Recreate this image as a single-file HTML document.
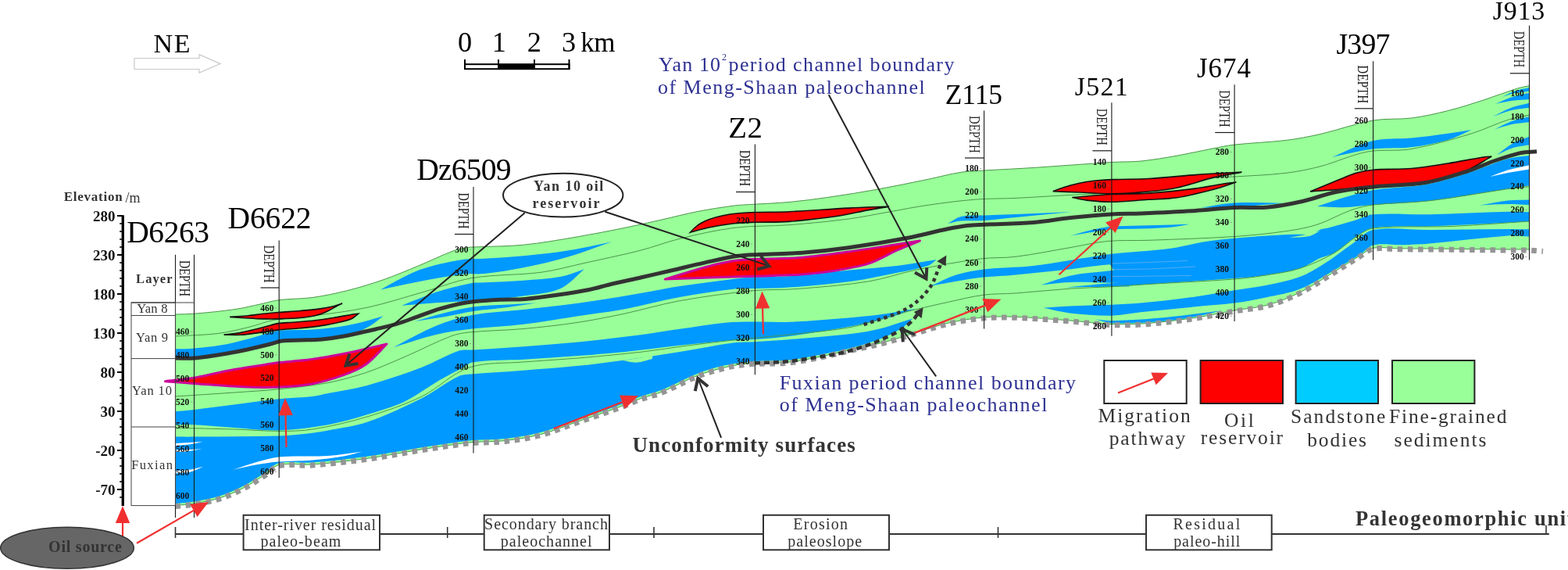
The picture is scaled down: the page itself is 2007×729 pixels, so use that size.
<!DOCTYPE html>
<html><head><meta charset="utf-8"><title>Cross-section</title>
<style>html,body{margin:0;padding:0;background:#fff;}svg{display:block;}</style></head>
<body><svg width="2007" height="729" viewBox="0 0 2007 729">
<rect width="2007" height="729" fill="#fff"/>
<path d="M224.5 402C232.6 401.7 240.7 401.9 248.8 401.2C266.6 399.7 284.4 398 302 395.4C313.1 393.8 324 390.9 335 388.6C342.3 387 349.6 384.6 357 383.7C371.2 381.9 385.8 382.5 400 380.5C415.1 378.4 430.2 375.2 445 371.5C460.2 367.7 475.2 363.1 490 358C505.6 352.6 520.7 346.1 536 339.8C551.1 333.6 565.8 326.2 581 320.6C586.8 318.5 593 317.6 599 316.5C601.3 316.1 603.7 316.1 606 316C627.3 315 648.8 315.3 670 313.2C693.4 310.9 716.7 306.6 740 302.7C760.1 299.3 780.1 295.3 800 291.3C815.7 288.1 831.3 284.5 847 281C862.3 277.6 877.6 273.5 893 270.5C908.6 267.5 924.3 265 940 263C948.6 261.9 957.3 261.8 966 261.2C980.7 260.3 995.4 259.9 1010 258.5C1027 256.9 1044.1 254.7 1061 252.2C1082.1 249.2 1103.1 245.8 1124 242C1145.4 238.1 1166.7 233.7 1188 229.3C1202 226.4 1215.9 222.5 1230 220.3C1239.9 218.7 1250 218.6 1260 218C1281 216.7 1302 215.9 1323 214.5C1356.3 212.4 1389.7 209.5 1423 207.5C1435.3 206.7 1447.7 207.3 1460 206.1C1475.7 204.5 1491.4 201.8 1507 199.1C1522.4 196.4 1537.6 192.7 1553 189.8C1562 188.1 1570.9 186.1 1580 185.1C1602.3 182.6 1624.8 182 1647 179.3C1661.4 177.5 1675.8 174.7 1690 171.5C1712.7 166.3 1734.8 158 1757.6 154C1773.6 151.2 1790.4 153.1 1806.6 151C1822.3 149 1837.9 145.5 1853.3 141.6C1869 137.7 1884.5 132.6 1900 127.6C1914 123.1 1927.7 117.6 1941.7 113.2C1946.8 111.6 1952.2 110.9 1957.5 109.7L1957.5 319C1948.3 319 1939.2 319.1 1930 319C1896.7 318.7 1863.3 318.3 1830 318C1816.7 317.9 1803.3 317.9 1790 317.8C1779.2 317.7 1767.9 315.4 1757.6 317.3C1751.5 318.4 1746.4 323.4 1741 326.7C1729.9 333.5 1719.1 340.7 1708 347.5C1693.4 356.4 1679.2 366.3 1664 373.9C1650.9 380.4 1637.1 386.1 1623 390C1609.1 393.8 1594.3 394.5 1580 397C1563.3 399.9 1546.8 403.8 1530 406.3C1510.1 409.3 1490.1 411.8 1470 413.4C1454.4 414.6 1438.6 415.1 1423 414.6C1405.3 414 1387.7 411.3 1370 410C1346.7 408.2 1323.4 406.2 1300 405.3C1286.6 404.8 1273 404.6 1259.6 405.8C1244.1 407.2 1228.7 409.8 1213.5 413.2C1199.5 416.4 1185.8 421.4 1172 425.5C1158.3 429.6 1144.8 434.3 1131 437.9C1117.5 441.5 1103.7 444 1090 447.1C1076.6 450.1 1063.3 453.5 1049.8 456.2C1036.6 458.8 1023.4 461.7 1010 463C993 464.6 975.7 463.4 958.7 464.8C948.4 465.7 938.1 467.4 928 469.8C916.2 472.6 904.3 475.9 893 480.3C877.3 486.4 862.6 495 847 501.3C838.3 504.8 828.9 506.6 820 509.8C808.9 513.8 798.1 518.7 787 522.7C771.4 528.4 755.7 533.6 740 539C724.3 544.4 709 551.1 693 555.3C678 559.3 662.4 561.7 647 563.5C633.4 565.1 619.6 564.5 606 565.5C599.6 565.9 593.3 566.8 587 567.7C571.3 569.9 555.6 572.2 540 574.7C516.6 578.4 493.4 583.1 470 586.3C446.8 589.5 423.4 592.3 400 594C385.7 595.1 370.5 591.8 357 594.7C350.2 596.1 345.3 603.1 339.3 607C330.5 612.7 321.9 618.7 312.6 623.5C302.7 628.6 292.3 633.4 281.7 636.8C271.1 640.2 259.9 642.1 248.8 644C240.8 645.4 232.6 645.7 224.5 646.5Z" fill="#99FF99" stroke="#4a964a" stroke-width="1"/>
<path d="M224.5 446.3C232.6 446 240.7 446.2 248.8 445.4C263 444.1 277.4 442.7 291.4 440C304.4 437.5 317.1 433.4 330 430C338.7 427.7 347.1 424.1 356 423C370.5 421.2 385.4 422.5 400 421.5C413.4 420.5 426.8 419.1 440 417C450.1 415.4 460.1 412.8 470 410.3C476.9 408.6 483.7 406.3 490.5 404.3C485.3 408.2 480.5 412.7 475 416C469 419.6 462.6 422.8 456 425C444.3 428.8 432.2 432.4 420 434C399.2 436.6 377.8 434.8 357 437.6C338.4 440.1 320.5 446.5 302 450C284.4 453.3 266.6 456.2 248.8 458C240.8 458.8 232.6 458 224.5 458Z" fill="#0099FF"/>
<path d="M487 370.4C503.3 362.1 518.9 351.8 536 345.5C553.9 338.9 573.2 335.2 592 331.9C601.2 330.3 610.7 331.3 620 330.7C636.7 329.7 653.4 328.8 670 327.2C689.4 325.3 708.8 323.3 728 320.2C746.4 317.3 764.7 312.9 783 309.2C764.7 315.6 746.6 322.9 728 328.3C708.9 333.9 689.5 338.4 670 342.3C653.5 345.6 636.7 348.2 620 350C610.7 351 601.2 349.6 592 350.7C573.2 353 554.6 356.7 536 360.2C519.6 363.3 503.3 367 487 370.4Z" fill="#0099FF"/>
<path d="M514.3 390.7C528.9 385 543.1 378.5 558 373.7C573 368.9 588.5 365.1 604 362C609.2 361 614.7 361.6 620 361.3C636.7 360.5 653.4 360 670 358.7C685.7 357.5 701.6 356.9 717 354C727.6 352 737.7 347.5 748 344.2C737.7 352.5 728.8 364 717 369.2C702.8 375.4 685.8 376.1 670 378.5C653.4 381 636.7 382.4 620 384C614.7 384.5 609.3 384.7 604 385C588.7 385.8 573.3 386.3 558 387.3C543.4 388.2 528.9 389.6 514.3 390.7Z" fill="#0099FF"/>
<path d="M531 411C544 407.3 556.9 403.2 570 400C581.9 397.1 593.9 394.1 606 392.5C620.5 390.6 635.3 390.4 650 389.5C662 388.8 674 388.2 686 387.5C674 389.3 662 391.4 650 393C635.4 394.9 620.6 395.8 606 398C593.9 399.8 582 402.9 570 405C557 407.2 544 409 531 411Z" fill="#0099FF"/>
<path d="M504 444C522 434.9 539.4 424.4 558 416.8C572.8 410.8 588.3 405.9 604 403C625.7 399 648 398.5 670 396C693.3 393.4 716.7 391.1 740 387.8C766.7 384.1 793.4 379.5 820 375C836.7 372.2 853.3 368.6 870 366C893.3 362.5 916.6 359.5 940 356.7C948.6 355.7 957.3 354.9 966 354.5C980.6 353.8 995.4 354.3 1010 353.2C1036.7 351.2 1063.3 347.9 1090 345.3C1110 343.4 1130.1 342.1 1150 339.7C1166.4 337.7 1182.7 334.6 1199 332C1195.3 334.6 1192.2 338.3 1188 339.7C1175.8 343.8 1162.7 345.9 1150 348.5C1130.1 352.6 1110.1 357 1090 359.7C1063.5 363.3 1036.7 365.6 1010 367.6C995.4 368.7 980.7 368.6 966 369C957.3 369.2 948.6 368.5 940 369.5C916.6 372.2 893.2 375.7 870 380C846.5 384.3 823.5 390.8 800 395.2C780.1 398.9 760 401.2 740 404.2C716.7 407.7 693.4 411.9 670 414.7C648.1 417.3 625.9 417.9 604 420.5C588.6 422.3 573.1 424.5 558 428C539.8 432.3 522 438.7 504 444Z" fill="#0099FF"/>
<path d="M224.5 526.3C232.6 525.5 240.7 525 248.8 524C284.9 519.6 320.9 514.4 357 510.3C371.3 508.7 385.7 508.7 400 507C406.7 506.2 413.3 504.3 420 503C436.7 499.7 453.7 497.5 470 493C493.7 486.4 517 478.4 540 469.7C556 463.6 570.9 454.1 587 448.7C592.9 446.7 599.7 447.9 606 447.5C627.3 446.1 648.7 444.9 670 443.3C693.3 441.6 716.7 439.8 740 437.5C766.7 434.8 793.4 431.6 820 428.2C836.7 426.1 853.3 423.2 870 420.8C889.3 418 908.6 414.6 928 412.7C940.6 411.5 953.3 411.6 966 411.5C980.7 411.3 995.4 412.4 1010 411.8C1033.4 410.9 1056.7 408.9 1080 407C1095.7 405.7 1111.4 404.3 1127 402.3C1138.7 400.8 1150.3 398.4 1162 396.5C1165.3 396 1168.7 395.5 1172 395C1159.7 399 1147.5 403.6 1135 407C1120.2 411 1105.1 414.5 1090 417.3C1063.5 422.2 1036.7 426.4 1010 430C995.4 432 980.7 433 966 434.1C953.4 435 940.6 435 928 436C908.6 437.6 889.3 439.7 870 441.8C846.6 444.4 823.4 447.6 800 450C780 452 760 453.5 740 455C716.7 456.7 693.3 458.3 670 459.7C648.7 461 626.7 459.8 606 463.2C599.1 464.3 593.3 469.8 587 473.2C579 477.4 570.8 481.4 563 486C547.5 495 533.1 506.3 517 514C502.1 521.1 485.9 525.5 470 530.3C453.5 535.3 436.9 540.2 420 543.2C399.2 546.9 378 549.7 357 550.4C338 551 319 548.3 300 547C282.9 545.9 265.9 544.1 248.8 543.2C240.7 542.8 232.6 543.2 224.5 543.2Z" fill="#0099FF"/>
<path d="M224.5 558.6C232.6 558.6 240.7 558.7 248.8 558.6C284.9 558.3 321 558.8 357 557.6C371.4 557.1 385.7 555.3 400 553.7C406.7 552.9 413.4 551.7 420 550.4C436.7 547.1 454 545.2 470 539.7C494 531.5 517.3 520.6 540 509.3C556.3 501.2 570.7 488.9 587 481.3C592.7 478.6 599.6 478.9 606 478.3C627.3 476.4 648.7 475.4 670 473.7C693.3 471.9 716.7 470.2 740 467.8C760 465.8 780 463.2 800 460.5C823.4 457.3 846.7 453.7 870 450C893.4 446.3 916.6 441.4 940 438.3C948.6 437.2 957.3 437.7 966 437.2C980.7 436.3 995.3 435.4 1010 434.2C1033.3 432.3 1056.7 430.4 1080 428C1090 427 1100.1 425.7 1110 424C1117.1 422.8 1124.1 421.2 1131 419.3C1139.1 417.1 1147 414.2 1155 411.6C1159.3 410.2 1163.7 408.9 1168 407.5C1163.5 411.5 1159.6 416.3 1154.6 419.5C1145.8 425 1136.3 429.8 1126.6 433.5C1111.5 439.2 1095.7 443.5 1080 447.6C1070.1 450.2 1059.9 451.8 1049.8 453.7C1036.6 456.1 1023.4 459.2 1010 460.5C995.4 461.9 980.6 460.8 966 462C953.3 463.1 940.5 464.6 928 467.3C916.1 469.9 904.3 473.4 893 477.8C877.3 483.9 862.6 492.5 847 498.8C838.3 502.3 828.9 504.1 820 507.3C808.9 511.3 798.1 516.2 787 520.2C771.4 525.9 755.7 531.1 740 536.5C724.3 541.9 709 548.6 693 552.8C678 556.8 662.4 559.2 647 561C633.4 562.6 619.6 562 606 563C599.6 563.4 593.3 564.3 587 565.2C571.3 567.4 555.6 569.7 540 572.2C516.6 575.9 493.4 580.6 470 583.8C446.8 587 423.4 589.8 400 591.5C385.7 592.6 370.5 589.3 357 592.2C350.2 593.6 345.3 600.6 339.3 604.5C330.5 610.2 321.9 616.2 312.6 621C302.7 626.1 292.3 630.9 281.7 634.3C271.1 637.7 259.9 639.6 248.8 641.5C240.8 642.9 232.6 643.2 224.5 644Z" fill="#0099FF"/>
<path d="M1213 286C1218.7 283 1223.9 278.4 1230 277C1239.6 274.9 1250 275.9 1260 275.5C1273.3 274.9 1286.7 274.5 1300 274C1324 273 1348 272 1372 271C1348 273.3 1324 275.6 1300 278C1286.7 279.3 1273.4 281.1 1260 282C1250 282.6 1239.9 281.7 1230 282.5C1224.3 283 1218.7 284.8 1213 286Z" fill="#0099FF"/>
<path d="M1332.3 364.5C1344.7 360.6 1356.7 355.3 1369.4 352.7C1387 349.1 1405.1 348.2 1423 346.1C1430.3 345.3 1437.7 344.7 1445 344L1445 362C1437.7 361.9 1430.3 361.8 1423 361.7C1405.1 361.5 1387.2 360.4 1369.4 361C1357 361.4 1344.7 363.3 1332.3 364.5Z" fill="#0099FF"/>
<path d="M1364.4 367.5C1383.9 365.8 1403.4 363.6 1423 362.3C1430.3 361.8 1437.7 362.1 1445 362L1445 366.5C1437.7 366.6 1430.3 366.6 1423 366.7C1403.5 366.9 1383.9 367.2 1364.4 367.5Z" fill="#0099FF"/>
<path d="M1335.6 393.8C1346.9 393 1358.1 391.9 1369.4 391.4C1387.3 390.6 1405.1 390.4 1423 389.7C1435.3 389.2 1447.7 388.8 1460 387.6C1483.4 385.3 1506.7 382.6 1530 379.4C1546.7 377.1 1563.3 373.9 1580 371.3C1593.3 369.2 1606.8 367.8 1620 365.1C1634.8 362.1 1650 359.4 1664 354.1C1675.3 349.9 1685.7 343.1 1696 336.6C1707.7 329.2 1718.5 320.3 1730 312.4C1739.1 306.1 1747.3 295.9 1757.8 294C1780.6 289.8 1805.9 294.2 1830 294.1C1863.3 293.9 1896.7 293.2 1930 293C1939.2 292.9 1948.3 293.2 1957.5 293.3L1957.5 302.5C1948.3 302.2 1939.1 300.9 1930 301.5C1896.6 303.9 1863.4 308.6 1830 311.5C1818.4 312.5 1806.7 312.9 1795 313.2C1782.6 313.5 1769.4 310.8 1757.8 313.5C1751.4 315 1746.8 321.9 1741 325.6C1730.2 332.5 1719.1 339 1708 345.4C1693.5 353.7 1679.4 363.4 1664 369.5C1650.1 375.1 1634.8 377.3 1620 380.5C1606.8 383.4 1593.4 385.8 1580 387.6C1563.4 389.8 1546.7 390.7 1530 392.3C1506.7 394.6 1483.3 396.8 1460 399.3C1447.7 400.6 1435.4 403.5 1423 403.7C1405.2 403.9 1387.2 402.4 1369.4 400.4C1358 399.1 1346.9 396 1335.6 393.8Z" fill="#0099FF"/>
<path d="M1402 408.6C1409 409.2 1416 410.4 1423 410.3C1442 409.9 1461 408.6 1480 407C1496.7 405.6 1513.3 403.5 1530 401.5C1541.7 400.1 1553.3 398.5 1565 397C1553.3 399.7 1541.8 403 1530 405C1513.5 407.8 1496.7 410.2 1480 411.5C1461.1 413 1441.9 413.9 1423 413.2C1415.9 412.9 1409 410.1 1402 408.6Z" fill="#0099FF"/>
<path d="M1537 265.6C1551.3 263.6 1565.6 260.3 1580 259.5C1600.6 258.4 1621.3 259.7 1642 259.8C1621.3 261.5 1600.7 263.9 1580 265C1565.7 265.8 1551.3 265.4 1537 265.6Z" fill="#0099FF"/>
<path d="M1370 301.5C1380 298.8 1389.9 295.7 1400 293.5C1407.6 291.8 1415.3 290.4 1423 289.8C1435.3 288.8 1447.7 288.9 1460 288.5C1473.3 288.1 1486.7 287.9 1500 287.5C1507.7 287.3 1515.3 287 1523 286.8C1515.3 288 1507.7 289.8 1500 290.5C1486.7 291.7 1473.3 292 1460 292.5C1447.7 292.9 1435.3 292.5 1423 293.3C1415.3 293.8 1407.6 295.3 1400 296.5C1390 298 1380 299.8 1370 301.5Z" fill="#0099FF"/>
<path d="M1705 201C1722.5 194 1739.5 184.5 1757.6 180.1C1773.3 176.3 1790.3 178.2 1806.6 176.6C1822.2 175.1 1837.8 172.9 1853.3 170.8C1863.4 169.4 1873.5 167.7 1883.6 166.1C1873.5 170.4 1863.8 176 1853.3 179C1838.1 183.4 1822.3 186.4 1806.6 188.3C1790.4 190.3 1773.8 188.6 1757.6 190.6C1739.9 192.8 1722.5 197.5 1705 201Z" fill="#0099FF"/>
<path d="M1686 264C1697 260.3 1707.9 256.3 1719 253C1731.8 249.3 1744.6 245.1 1757.8 243C1780 239.4 1802.9 239.9 1825 236C1842.6 232.9 1859.9 227.4 1877 222C1894.9 216.4 1912 208.1 1930 203C1938.9 200.5 1948.3 200.3 1957.5 199L1957.5 237.3C1948.3 238.7 1939.2 240.2 1930 241.6C1896.7 246.7 1863.5 252.8 1830 256.8C1806.1 259.6 1781.9 260.2 1757.8 262C1744.9 263 1731.9 264.8 1719 265.2C1708 265.5 1697 264.4 1686 264Z" fill="#0099FF"/>
<path d="M1894 262.5C1906 260.5 1917.9 257.8 1930 256.5C1939.1 255.5 1948.3 255.8 1957.5 255.5L1957.5 262C1948.3 261.7 1939.2 260.9 1930 261C1918 261.1 1906 262 1894 262.5Z" fill="#0099FF"/>
<path d="M1923 123.7C1928.8 121.2 1934.3 118.1 1940.2 116.1C1945.8 114.2 1951.8 113.4 1957.5 112L1957.5 116.7C1951.8 117.4 1945.9 117.7 1940.2 118.8C1934.4 120 1928.8 122.1 1923 123.7Z" fill="#0099FF"/>
<path d="M1913.7 133C1921 130 1928.1 126.3 1935.6 123.9C1942.7 121.6 1950.2 120.6 1957.5 119L1957.5 127C1950.2 127.6 1942.8 127.8 1935.6 128.8C1928.2 129.8 1921 131.6 1913.7 133Z" fill="#0099FF"/>
<path d="M1910.2 149.3C1918.1 145.5 1925.7 140.9 1933.8 137.9C1941.5 135.1 1949.6 133.8 1957.5 131.8L1957.5 137.7C1949.6 138.9 1941.6 139.3 1933.8 141.2C1925.8 143.2 1918.1 146.6 1910.2 149.3Z" fill="#0099FF"/>
<path d="M1912.5 165.7C1920 162.1 1927.2 157.9 1935 155C1942.2 152.4 1950 151.2 1957.5 149.3L1957.5 156.3C1950 157.2 1942.4 157.6 1935 159.1C1927.4 160.7 1920 163.5 1912.5 165.7Z" fill="#0099FF"/>
<path d="M1916 198.2C1922.9 193.1 1929.3 187.2 1936.8 183C1943.2 179.4 1950.6 177.5 1957.5 174.8L1957.5 185.2C1950.6 186.5 1943.4 187 1936.8 189.1C1929.6 191.3 1922.9 195.2 1916 198.2Z" fill="#0099FF"/>
<path d="M1190.8 365.8C1201.9 361 1212.6 355 1224 351.4C1235.3 347.9 1247.2 346 1259 344.4C1269.2 343 1279.7 342.9 1290 342.2C1300 341.5 1310.1 341.5 1320 340.3C1336.4 338.4 1352.7 335.4 1369 332.9C1387 330.2 1404.9 327 1423 324.7C1435.3 323.2 1447.7 322.7 1460 321.5C1473.3 320.3 1486.8 319.5 1500 317.5C1513.4 315.5 1526.6 311.6 1540 309.5C1553.2 307.4 1566.6 306 1580 304.8C1602.3 302.8 1624.7 301.3 1647 300.1C1655.3 299.7 1663.7 299.6 1672 300C1673.7 300.1 1675.5 302 1677 301.5C1681.1 300 1684.7 295.9 1689 294C1692.4 292.5 1696.4 292.5 1700 291.5C1712 288.2 1724.1 284.9 1736 281.3C1743.3 279.1 1750.1 274.9 1757.6 274.3C1781.5 272.5 1805.9 274.8 1830 274.3C1863.3 273.6 1896.7 271.6 1930 270.8C1939.2 270.6 1948.3 271.1 1957.5 271.2L1957.5 283C1948.3 283.6 1939.2 284.3 1930 284.8C1896.7 286.5 1863.3 288.2 1830 289.5C1805.9 290.4 1781.1 288.2 1757.6 291.5C1749.7 292.6 1742.8 298.2 1736 302.6C1726.3 308.9 1717.9 317.5 1708 323.4C1702.6 326.6 1695.8 327.4 1690 330C1681.2 334 1673.2 340.3 1664 343.2C1649.9 347.6 1634.8 349.7 1620 352C1606.8 354 1593.4 355 1580 356.1C1563.4 357.5 1546.7 358.5 1530 359.6C1506.7 361.2 1483.3 362.7 1460 364.3C1452.7 364.8 1445.3 365.4 1438 366L1422.5 340.5C1421.7 339.8 1421.1 338.2 1420 338.3C1403.3 339.5 1386 342.5 1369 344.4C1352.7 346.2 1336.3 347.8 1320 349.5C1310 350.5 1300 351.7 1290 352.5C1279.7 353.3 1269.3 353.4 1259 354.5C1247.3 355.8 1235.6 357.8 1224 359.7C1212.9 361.5 1201.9 363.8 1190.8 365.8Z" fill="#0099FF"/>
<path d="M797 461C803 460.2 809 459.6 815 458.6C821.7 457.5 828.3 455.9 835 454.5L835 459C828.3 460.5 821.7 463.2 815 463.6C809 463.9 803 461.9 797 461Z" fill="#99FF99"/>
<path d="M1650 304C1657.3 302.7 1664.7 301.6 1672 300C1678.1 298.6 1684 296.7 1690 295C1685.3 297.3 1681 300.9 1676 302C1667.7 303.9 1658.7 303.3 1650 304Z" fill="#99FF99"/>
<path d="M1423 337C1438.7 336.5 1454.3 336.1 1470 335.5C1486.7 334.9 1503.3 334.2 1520 333.5" fill="none" stroke="#5ab0f0" stroke-width="0.9"/>
<path d="M1423 344.5C1438.7 344.3 1454.3 344.5 1470 344C1490 343.3 1510 342 1530 341" fill="none" stroke="#5ab0f0" stroke-width="0.9"/>
<path d="M1423 353.5C1438.7 353.4 1454.3 353.4 1470 353.2C1488.3 353 1506.7 352.7 1525 352.5" fill="none" stroke="#5ab0f0" stroke-width="0.9"/>
<path d="M224.5 567C230.3 566.7 236.2 566.4 242 566C248 565.6 254 565.2 260 564.8C254 566 248.1 567.6 242 568.5C236.2 569.3 230.3 569.5 224.5 570Z" fill="#FFFFFF"/>
<path d="M224.5 575.5C230.3 575.3 236.2 575.3 242 575C247.7 574.8 253.3 574.3 259 574C253.3 575 247.7 576.3 242 577C236.2 577.7 230.3 577.7 224.5 578Z" fill="#FFFFFF"/>
<path d="M224.5 602C231 601.5 237.6 601.5 244 600.5C249.4 599.7 254.7 598 260 596.7C254.7 599 249.6 602.1 244 603.5C237.7 605.1 231 604.8 224.5 605.5Z" fill="#FFFFFF"/>
<path d="M298 600.8C308.7 597.4 319.2 593.5 330 590.5C338.9 588 347.8 585.2 357 584.4C377.8 582.7 399.1 584.4 420 583C434.7 582.1 449.3 579.3 464 577.5C456 579.5 448.1 582.1 440 583.5C426.8 585.8 413.4 587.4 400 588.5C385.7 589.7 371.3 589.4 357 590.5C348 591.2 338.9 592.4 330 594C319.3 595.9 308.7 598.5 298 600.8Z" fill="#FFFFFF"/>
<path d="M1907 226C1914.7 223.2 1922.2 219.8 1930 217.5C1939 214.9 1948.3 213.3 1957.5 211.2L1957.5 216.5C1948.3 218 1939.1 219.3 1930 221C1922.3 222.5 1914.7 224.3 1907 226Z" fill="#FFFFFF"/>
<path d="M224.5 430C243 428.8 261.7 428.7 280 426.4C293.5 424.7 306.8 421.2 320 418C330.4 415.5 340.5 411.1 351 409.3C367.1 406.5 383.7 406.2 400 404C423.4 400.9 447 398.2 470 393.3C493.6 388.2 516.7 380.6 540 374C561.4 368 582.2 359.3 604 355.6C633.2 350.7 663.6 352.2 693 348.2C712.2 345.6 731 340.2 750 336C773.4 330.8 796.8 326.1 820 320.2C836.8 315.9 853.1 309.4 870 305.3C893.1 299.7 916.5 294.3 940 291.3C963.1 288.4 986.7 289.5 1010 287.7C1035.4 285.7 1060.8 283.3 1086 280C1103.1 277.8 1120 274.1 1137 271.2C1154 268.2 1170.9 264.7 1188 262.3C1208.6 259.3 1229.3 256.6 1250 255C1266.6 253.7 1283.3 254.2 1300 253.4C1323.3 252.3 1346.7 250.6 1370 249.4C1387.7 248.5 1405.3 247.8 1423 247.1C1435.3 246.6 1447.8 247.2 1460 245.8C1473.4 244.2 1486.7 240.9 1500 238C1513.7 235 1527.1 230.1 1541 228C1553.8 226.1 1567 226.8 1580 226C1602 224.6 1624.1 223.9 1646 221.3C1660.8 219.5 1675.6 216.6 1690 212.8C1710.2 207.5 1729.6 198 1750 194.1C1768.2 190.6 1787.7 193.8 1806 190.6C1832 186.1 1857.7 178.6 1883 171C1899 166.2 1914.1 158.4 1930 153.3C1938.9 150.4 1948.3 149.1 1957.5 147" fill="none" stroke="#4a964a" stroke-width="1"/>
<path d="M224.5 507C249.7 505.3 274.8 503.8 300 502C319 500.7 338.1 499.7 357 497.7C378.1 495.5 399.2 493.5 420 489.5C436.9 486.3 453.7 481.5 470 476C487 470.2 503.5 462.6 520 455.5C539.1 447.3 557.6 437.4 577 430C584.3 427.2 592.2 425.8 600 425C623.2 422.6 646.7 422.6 670 420.5C693.4 418.4 716.8 415.8 740 412.3C760.1 409.3 780.1 405.2 800 401C823.4 396 846.4 388.9 870 384.7C900.8 379.2 931.9 375 963 371.8C981.9 369.9 1001.1 371 1020 369.5C1050.6 367.1 1081.3 364.8 1111.5 360C1132 356.7 1151.7 349.4 1172 345.3C1199.5 339.7 1227.2 334.7 1255 331C1269.9 329 1285.1 330.2 1300 328.3C1323.4 325.4 1346.7 320.5 1370 316.6C1385.7 313.9 1401.2 310 1417 308.5C1434.5 306.9 1452.3 308 1470 307.3C1506.7 306 1543.4 304.9 1580 302.5C1602.4 301 1624.8 298.7 1647 295.5C1660.1 293.6 1673.4 291.3 1686 287.2C1701.1 282.3 1715 273.8 1730 268.5C1738.9 265.4 1748.4 263.1 1757.8 262C1781.7 259.2 1806.1 259.6 1830 256.8C1863.5 252.8 1896.6 246.4 1930 241.6C1939.1 240.3 1948.3 239.6 1957.5 238.6" fill="none" stroke="#4a964a" stroke-width="1"/>
<path d="M224.5 547.3C249.7 547.9 274.8 548.2 300 549C319 549.6 338 551.4 357 551.4C371.3 551.4 385.9 551.3 400 549C423.5 545.2 447.1 539.9 470 533C493.8 525.9 517.7 517.8 540 507C561 496.8 578.3 477.5 600 470.2C621.7 462.9 646.6 465 670 463C693.3 461 716.7 460 740 458C766.7 455.7 793.4 453.3 820 450.3C840.1 448 860 444.6 880 442C900 439.4 920 437 940 434.8C963.3 432.3 986.7 430.6 1010 428C1036.7 425.1 1063.7 423.3 1090 418.3C1111 414.3 1131.2 406.2 1152 400.8C1172.4 395.5 1192.9 390.9 1213.5 386.4C1228.6 383.1 1243.7 379.2 1259 377.2C1272.5 375.4 1286.4 376 1300 375C1323.4 373.3 1346.6 370.7 1370 369.1C1387.6 367.9 1405.3 367.7 1423 366.7C1438.7 365.8 1454.3 364.5 1470 363.5C1506.7 361.2 1543.4 359.8 1580 357C1593.4 356 1606.7 354.2 1620 352C1634.7 349.6 1649.9 347.8 1664 343.2C1679.2 338.3 1694.1 331.3 1708 323.4C1718.1 317.7 1726.2 308.8 1736 302.6C1742.8 298.3 1749.9 292.8 1757.8 292C1791.2 288.4 1826 290.9 1860 289.4C1892.5 287.9 1925 285.1 1957.5 283" fill="none" stroke="#4a964a" stroke-width="1"/>
<path d="M294.2 405.4C302.1 404.8 310 404.5 317.9 403.7C324.2 403.1 330.5 402 336.8 401.3C343.7 400.6 350.7 400 357.6 399.4C366.4 398.7 375.3 398.3 384.1 397.5C392 396.8 399.9 396.2 407.8 395.1C414.1 394.3 420.5 393.3 426.7 391.8C430.6 390.9 434.3 389.3 438.1 388C435.3 389.4 432.4 390.8 429.6 392.3C425.5 394.5 421.6 397.1 417.3 398.9C412.7 400.9 408 402.6 403.1 403.7C396.9 405.1 390.5 405.9 384.1 406.5C375.3 407.3 366.4 407.6 357.6 407.9C350.7 408.1 343.7 408.1 336.8 407.9C330.5 407.8 324.2 407.4 317.9 407C310 406.5 302.1 405.9 294.2 405.4Z" fill="#FF0000" stroke="#111" stroke-width="1.6" stroke-linejoin="miter"/>
<path d="M286.6 428.1C293.9 427.2 301.2 426.7 308.4 425.4C316.4 423.9 324.2 421.8 332.1 419.8C336.9 418.6 341.6 417.2 346.3 416C349.4 415.2 352.5 414 355.7 413.6C362 412.8 368.4 412.7 374.7 412.2C384.2 411.4 393.7 410.9 403.1 409.8C412.6 408.7 422.1 407.1 431.5 405.6C437.8 404.6 444.1 403.2 450.4 402.2C453.1 401.8 455.8 401.6 458.5 401.3C455.8 403.4 453.4 406.1 450.4 407.5C446 409.6 441 410.6 436.2 411.7C428.4 413.5 420.5 415.2 412.5 416.4C403.1 417.9 393.6 418.8 384.1 419.8C374.7 420.7 365.1 421.1 355.7 422.1C347.8 423 340 424.4 332.1 425.4C324.2 426.4 316.3 427.8 308.4 428.3C301.2 428.7 293.9 428.2 286.6 428.1Z" fill="#FF0000" stroke="#111" stroke-width="1.6" stroke-linejoin="miter"/>
<path d="M883.5 297.2C885.3 295.3 887 293.2 889 291.5C891.5 289.3 894.1 287.2 897 285.5C900.5 283.5 904.2 281.8 908 280.5C913.5 278.6 919.3 277 925 275.8C931.6 274.4 938.3 273.5 945 272.8C952.1 272.1 959.3 271.7 966.4 271.5C980.9 271 995.5 271.4 1010 270.7C1035.3 269.6 1060.7 267.4 1086 266.1C1103.3 265.2 1120.7 264.8 1138 264.1C1129.2 265.6 1120.3 266.9 1111.5 268.6C1098.6 271 1085.9 274.4 1073 276.3C1052.1 279.3 1031.1 281.8 1010 283.4C995.5 284.5 980.9 283.8 966.4 284.3C957.6 284.6 948.8 284.8 940 285.8C930 286.9 919.9 288.7 910 290.5C904.3 291.6 898.6 293.1 893 294.5C889.8 295.3 886.7 296.3 883.5 297.2Z" fill="#FF0000" stroke="#111" stroke-width="1.6" stroke-linejoin="miter"/>
<path d="M1347.8 244.8C1352.5 243 1357.2 241 1362 239.5C1368.4 237.5 1375 235.7 1381.6 234.3C1387.7 233 1393.8 232 1400 231.3C1407.6 230.4 1415.3 229.9 1423 229.6C1438.7 229 1454.4 229.4 1470 228.5C1490 227.4 1510 225.1 1530 223.6C1541.7 222.7 1553.3 222 1565 221.3C1573.1 220.8 1581.3 220.5 1589.4 220.1C1577.3 222.4 1565 224.2 1553 227.1C1537.5 230.8 1522.5 236.7 1507 240C1494.9 242.6 1482.4 243.9 1470 245C1454.4 246.5 1438.7 247.6 1423 247.8C1409.2 248 1395.4 246.6 1381.6 246C1370.3 245.6 1359.1 245.2 1347.8 244.8Z" fill="#FF0000" stroke="#111" stroke-width="1.6" stroke-linejoin="miter"/>
<path d="M1372.3 252.5C1389.2 251.2 1406.1 249.4 1423 248.5C1438.6 247.6 1454.4 248.2 1470 247.1C1490 245.7 1510.1 243.6 1530 241.1C1541.7 239.6 1553.3 237.1 1565 235.3C1570.8 234.4 1576.6 233.8 1582.4 233C1572.7 236.1 1563.1 239.7 1553.3 242.3C1537.9 246.3 1522.3 250.3 1506.6 252.8C1494.6 254.7 1482.2 254.5 1470 255.3C1454.3 256.3 1438.7 258.1 1423 258.3C1413.1 258.4 1403.1 257.5 1393.3 256.4C1386.2 255.6 1379.3 253.8 1372.3 252.5Z" fill="#FF0000" stroke="#111" stroke-width="1.6" stroke-linejoin="miter"/>
<path d="M1677 245C1689.1 240 1701.2 234.9 1713.3 230C1721 226.9 1728.6 223.3 1736.6 221C1743.4 219 1750.5 217.8 1757.6 217.2C1773.9 215.9 1790.3 216.9 1806.6 215.5C1822.2 214.2 1837.8 211.4 1853.3 209C1868.9 206.5 1884.4 203.3 1900 200.8C1903 200.3 1906.1 200.3 1909.2 200.1C1898.3 206.2 1888.1 213.9 1876.6 218.3C1860.2 224.6 1842.7 229.4 1825.3 232.3C1803 236 1780.2 236 1757.6 238.1C1750.6 238.7 1743.6 239.9 1736.6 240.5C1716.8 242.2 1696.9 243.5 1677 245Z" fill="#FF0000" stroke="#111" stroke-width="1.6" stroke-linejoin="miter"/>
<path d="M211.5 487.7C223.6 486.2 235.8 485.3 247.8 483.2C265.3 480.2 282.5 475.6 300 472.5C319.2 469.1 338.5 466.6 357.8 463.6C371.6 462.3 385.6 461.5 399.3 459.6C415.3 457.3 431.2 454.2 447.1 451C463.1 447.7 479 443.7 495 440C486 448.8 478 459.1 467.9 466.3C459.4 472.4 449.1 476.3 439.1 479.9C426.2 484.5 412.8 488.5 399.3 491C385.7 493.5 371.7 494.4 357.8 495C342.4 495.7 327 495.4 311.6 494.8C290.3 493.9 269.1 492 247.8 490.5C235.7 489.6 223.6 488.6 211.5 487.7Z" fill="#FF0000" stroke="#CC0099" stroke-width="3" stroke-linejoin="round"/>
<path d="M851.3 357.1C873.1 350.7 894.7 343.5 916.7 338C928.2 335.2 939.9 333.1 951.7 332.2C974.4 330.4 997.3 331.5 1020 329.8C1042.1 328.1 1064 324.8 1086 321.9C1103 319.6 1120 316.9 1137 314.3C1150.5 312.3 1163.9 310.1 1177.4 308C1168.1 311.8 1158.7 315.3 1149.5 319.4C1136.7 325 1124.7 332.9 1111.5 337.1C1095.1 342.2 1077.7 344.6 1060.7 347.3C1047.2 349.4 1033.6 350.6 1020 351.5C1002.2 352.6 984.3 352.6 966.4 353.2C942 354 917.7 354.7 893.3 355.5C879.3 356 865.3 356.6 851.3 357.1Z" fill="#FF0000" stroke="#CC0099" stroke-width="3" stroke-linejoin="round"/>
<path d="M224.5 458C232.6 458 240.8 458.8 248.8 458C266.6 456.2 284.4 453.3 302 450C316.8 447.3 331.4 443.5 346 440C350.9 438.8 355.6 436.6 360.5 436C368.6 435 376.8 435.3 385 435C394 434.7 403 434.8 412 434C421.4 433.1 430.7 431.7 440 430C450.1 428.2 460 425.7 470 423.5C473.3 422.8 476.7 422 480 421.2C489.1 419 498.4 417.1 507.4 414.4C516.7 411.6 525.7 408 534.8 404.8C544 401.6 553 398 562.3 395.2C571.3 392.5 580.5 390.3 589.7 388.3C595.1 387.1 600.5 386.2 606 385.7C617.3 384.6 628.7 383.9 640 383.3C650.7 382.8 661.4 383.3 672 382.4C685.7 381.3 699.4 379.3 713 377.3C726.8 375.3 740.6 373.2 754.2 370.5C762.9 368.8 771.4 366 780 364C793.6 360.8 807.3 357.9 821 354.8C834.8 351.7 848.5 348.4 862.3 345.2C876 342 889.7 338.6 903.4 335.6C917.1 332.6 930.7 329.4 944.5 327.3C953.6 326 962.8 325.9 972 325.4C990.3 324.5 1008.6 324.6 1026.8 323.2C1046.6 321.7 1066.4 319.6 1086 316.8C1111.4 313.2 1136.8 309 1162 304.2C1179.1 301 1195.9 296.2 1213 292.7C1221.3 291 1229.6 289.4 1238 288.4C1245.3 287.6 1252.7 287.6 1260 287.3C1281 286.3 1302.1 286.1 1323 284.4C1338.7 283.2 1354.3 280.2 1370 278.6C1387.6 276.8 1405.3 275.1 1423 274C1435.3 273.2 1447.7 273.5 1460 273C1483.3 272 1506.7 271 1530 269.5C1546.7 268.5 1563.3 266.3 1580 265.5C1594.3 264.8 1608.8 266.3 1623 265C1637.8 263.6 1652.5 260.7 1667 257.5C1681.5 254.2 1695.5 248.5 1710 245.5C1725.7 242.3 1741.8 240.7 1757.8 239C1780.1 236.7 1802.9 237.1 1825 233.5C1842.6 230.6 1859.9 224.9 1877 219.5C1888.9 215.7 1900.2 210.1 1912 206C1923.2 202.1 1934.5 198.2 1946 195.6C1952.8 194.1 1960 194.4 1967 193.8" fill="none" stroke="#333333" stroke-width="5" stroke-linecap="butt"/>
<path d="M224.5 647.5C232.6 646.7 240.8 646.4 248.8 645C259.9 643.1 271.1 641.2 281.7 637.8C292.3 634.4 302.7 629.6 312.6 624.5C321.9 619.7 330.5 613.7 339.3 608C345.3 604.1 350.2 597.1 357 595.7C370.5 592.8 385.7 596.1 400 595C423.4 593.3 446.8 590.5 470 587.3C493.4 584.1 516.6 579.4 540 575.7C555.6 573.2 571.3 570.9 587 568.7C593.3 567.8 599.6 566.9 606 566.5C619.6 565.5 633.4 566.1 647 564.5C662.4 562.7 678 560.3 693 556.3C709 552.1 724.3 545.4 740 540C755.7 534.6 771.4 529.4 787 523.7C798.1 519.7 808.9 514.8 820 510.8C828.9 507.6 838.3 505.8 847 502.3C862.6 496 877.3 487.4 893 481.3C904.3 476.9 916.2 473.6 928 470.8C938.1 468.4 948.4 466.7 958.7 465.8C975.7 464.4 993 465.6 1010 464C1023.4 462.7 1036.6 459.8 1049.8 457.2C1063.3 454.5 1076.6 451.1 1090 448.1C1103.7 445 1117.5 442.5 1131 438.9C1144.8 435.3 1158.3 430.6 1172 426.5C1185.8 422.4 1199.5 417.4 1213.5 414.2C1228.7 410.8 1244.1 408.2 1259.6 406.8C1273 405.6 1286.6 405.8 1300 406.3C1323.4 407.2 1346.7 409.2 1370 411C1387.7 412.3 1405.3 415 1423 415.6C1438.6 416.1 1454.4 415.6 1470 414.4C1490.1 412.8 1510.1 410.3 1530 407.3C1546.8 404.8 1563.3 400.9 1580 398C1594.3 395.5 1609.1 394.8 1623 391C1637.1 387.1 1650.9 381.4 1664 374.9C1679.2 367.3 1693.4 357.4 1708 348.5C1719.1 341.7 1729.9 334.5 1741 327.7C1746.4 324.4 1751.5 319.4 1757.6 318.3C1767.9 316.4 1779.2 318.7 1790 318.8C1803.3 318.9 1816.7 318.9 1830 319C1863.3 319.3 1896.7 319.7 1930 320C1939.2 320.1 1948.3 319.7 1957.5 320C1963.3 320.2 1969.2 321 1975 321.5" fill="none" stroke="#959595" stroke-width="7" stroke-dasharray="6.6 6.6"/>
<path d="M966 464.4C980.2 463.7 994.5 463.7 1008.6 462.3C1022.4 460.9 1036.1 458.4 1049.8 456.2C1059 454.7 1068.2 453.5 1077.2 451.3C1088.3 448.6 1099.2 445.3 1110 441.7C1115.7 439.8 1121.2 437.5 1126.6 435C1136.1 430.6 1145.8 426.4 1154.6 421C1159.8 417.8 1164.3 413.5 1168.6 409.3C1171.1 406.9 1172.9 403.8 1175 401" fill="none" stroke="#333333" stroke-width="4.5" stroke-dasharray="7 5"/>
<path d="M1181.6 393.2L1169.8 399L1179.6 407.2Z" fill="#333333"/>
<path d="M1105.6 415.1C1120.4 410.1 1135.7 406.1 1150 400C1158.3 396.4 1166.4 391.7 1173.3 386C1180.4 380.1 1186.9 372.7 1192 365C1196.2 358.7 1198.1 350.9 1201.3 344C1202.4 341.6 1203.8 339.3 1205 337" fill="none" stroke="#333333" stroke-width="4.5" stroke-dasharray="4.5 4.5"/>
<path d="M1211.3 326.4L1199.3 334.2L1210.6 340.3Z" fill="#333333"/>
<line x1="248.5" y1="325.7" x2="248.5" y2="662" stroke="#1a1a1a" stroke-width="1.1"/>
<line x1="224.5" y1="325.7" x2="224.5" y2="662" stroke="#1a1a1a" stroke-width="1.1"/>
<line x1="168" y1="387" x2="224.5" y2="387" stroke="#1a1a1a" stroke-width="1.2"/>
<text transform="translate(229.7 333) rotate(90)" font-family="'Liberation Serif', 'Times New Roman', serif" font-size="19.5" fill="#222" textLength="46" lengthAdjust="spacingAndGlyphs">DEPTH</text>
<text x="225" y="428" font-family="'Liberation Serif', 'Times New Roman', serif" font-weight="bold" font-size="11.5" fill="#111">460</text>
<line x1="244.5" y1="424.3" x2="246.5" y2="424.3" stroke="#777" stroke-width="0.8"/>
<text x="225" y="457.9" font-family="'Liberation Serif', 'Times New Roman', serif" font-weight="bold" font-size="11.5" fill="#111">480</text>
<line x1="244.5" y1="454.2" x2="246.5" y2="454.2" stroke="#777" stroke-width="0.8"/>
<text x="225" y="487.9" font-family="'Liberation Serif', 'Times New Roman', serif" font-weight="bold" font-size="11.5" fill="#111">500</text>
<line x1="244.5" y1="484.2" x2="246.5" y2="484.2" stroke="#777" stroke-width="0.8"/>
<text x="225" y="517.9" font-family="'Liberation Serif', 'Times New Roman', serif" font-weight="bold" font-size="11.5" fill="#111">520</text>
<line x1="244.5" y1="514.1" x2="246.5" y2="514.1" stroke="#777" stroke-width="0.8"/>
<text x="225" y="547.8" font-family="'Liberation Serif', 'Times New Roman', serif" font-weight="bold" font-size="11.5" fill="#111">540</text>
<line x1="244.5" y1="544.1" x2="246.5" y2="544.1" stroke="#777" stroke-width="0.8"/>
<text x="225" y="577.8" font-family="'Liberation Serif', 'Times New Roman', serif" font-weight="bold" font-size="11.5" fill="#111">560</text>
<line x1="244.5" y1="574" x2="246.5" y2="574" stroke="#777" stroke-width="0.8"/>
<text x="225" y="607.7" font-family="'Liberation Serif', 'Times New Roman', serif" font-weight="bold" font-size="11.5" fill="#111">580</text>
<line x1="244.5" y1="604" x2="246.5" y2="604" stroke="#777" stroke-width="0.8"/>
<text x="225" y="637.7" font-family="'Liberation Serif', 'Times New Roman', serif" font-weight="bold" font-size="11.5" fill="#111">600</text>
<line x1="244.5" y1="634" x2="246.5" y2="634" stroke="#777" stroke-width="0.8"/>
<line x1="357.2" y1="307.6" x2="357.2" y2="611" stroke="#1a1a1a" stroke-width="1.1"/>
<line x1="333.6" y1="368" x2="357.2" y2="368" stroke="#1a1a1a" stroke-width="1.2"/>
<text transform="translate(337.7 313.4) rotate(90)" font-family="'Liberation Serif', 'Times New Roman', serif" font-size="19.5" fill="#222" textLength="48.3" lengthAdjust="spacingAndGlyphs">DEPTH</text>
<text x="350.5" y="397.7" text-anchor="end" font-family="'Liberation Serif', 'Times New Roman', serif" font-weight="bold" font-size="11.5" fill="#111">460</text>
<line x1="352.3" y1="394" x2="354" y2="394" stroke="#777" stroke-width="0.8"/>
<text x="350.5" y="427.6" text-anchor="end" font-family="'Liberation Serif', 'Times New Roman', serif" font-weight="bold" font-size="11.5" fill="#111">480</text>
<line x1="352.3" y1="423.9" x2="354" y2="423.9" stroke="#777" stroke-width="0.8"/>
<text x="350.5" y="457.5" text-anchor="end" font-family="'Liberation Serif', 'Times New Roman', serif" font-weight="bold" font-size="11.5" fill="#111">500</text>
<line x1="352.3" y1="453.8" x2="354" y2="453.8" stroke="#777" stroke-width="0.8"/>
<text x="350.5" y="487.4" text-anchor="end" font-family="'Liberation Serif', 'Times New Roman', serif" font-weight="bold" font-size="11.5" fill="#111">520</text>
<line x1="352.3" y1="483.7" x2="354" y2="483.7" stroke="#777" stroke-width="0.8"/>
<text x="350.5" y="517.3" text-anchor="end" font-family="'Liberation Serif', 'Times New Roman', serif" font-weight="bold" font-size="11.5" fill="#111">540</text>
<line x1="352.3" y1="513.6" x2="354" y2="513.6" stroke="#777" stroke-width="0.8"/>
<text x="350.5" y="547.2" text-anchor="end" font-family="'Liberation Serif', 'Times New Roman', serif" font-weight="bold" font-size="11.5" fill="#111">560</text>
<line x1="352.3" y1="543.5" x2="354" y2="543.5" stroke="#777" stroke-width="0.8"/>
<text x="350.5" y="577.1" text-anchor="end" font-family="'Liberation Serif', 'Times New Roman', serif" font-weight="bold" font-size="11.5" fill="#111">580</text>
<line x1="352.3" y1="573.4" x2="354" y2="573.4" stroke="#777" stroke-width="0.8"/>
<text x="350.5" y="607" text-anchor="end" font-family="'Liberation Serif', 'Times New Roman', serif" font-weight="bold" font-size="11.5" fill="#111">600</text>
<line x1="352.3" y1="603.3" x2="354" y2="603.3" stroke="#777" stroke-width="0.8"/>
<line x1="606" y1="239" x2="606" y2="579.5" stroke="#1a1a1a" stroke-width="1.1"/>
<line x1="582" y1="299.5" x2="606" y2="299.5" stroke="#1a1a1a" stroke-width="1.2"/>
<text transform="translate(587.2 246.6) rotate(90)" font-family="'Liberation Serif', 'Times New Roman', serif" font-size="19.5" fill="#222" textLength="46" lengthAdjust="spacingAndGlyphs">DEPTH</text>
<text x="599.5" y="323.1" text-anchor="end" font-family="'Liberation Serif', 'Times New Roman', serif" font-weight="bold" font-size="11.5" fill="#111">300</text>
<line x1="601.3" y1="319.4" x2="603" y2="319.4" stroke="#777" stroke-width="0.8"/>
<text x="599.5" y="353.1" text-anchor="end" font-family="'Liberation Serif', 'Times New Roman', serif" font-weight="bold" font-size="11.5" fill="#111">320</text>
<line x1="601.3" y1="349.4" x2="603" y2="349.4" stroke="#777" stroke-width="0.8"/>
<text x="599.5" y="383.1" text-anchor="end" font-family="'Liberation Serif', 'Times New Roman', serif" font-weight="bold" font-size="11.5" fill="#111">340</text>
<line x1="601.3" y1="379.4" x2="603" y2="379.4" stroke="#777" stroke-width="0.8"/>
<text x="599.5" y="413.1" text-anchor="end" font-family="'Liberation Serif', 'Times New Roman', serif" font-weight="bold" font-size="11.5" fill="#111">360</text>
<line x1="601.3" y1="409.4" x2="603" y2="409.4" stroke="#777" stroke-width="0.8"/>
<text x="599.5" y="443.1" text-anchor="end" font-family="'Liberation Serif', 'Times New Roman', serif" font-weight="bold" font-size="11.5" fill="#111">380</text>
<line x1="601.3" y1="439.4" x2="603" y2="439.4" stroke="#777" stroke-width="0.8"/>
<text x="599.5" y="473.1" text-anchor="end" font-family="'Liberation Serif', 'Times New Roman', serif" font-weight="bold" font-size="11.5" fill="#111">400</text>
<line x1="601.3" y1="469.4" x2="603" y2="469.4" stroke="#777" stroke-width="0.8"/>
<text x="599.5" y="503.1" text-anchor="end" font-family="'Liberation Serif', 'Times New Roman', serif" font-weight="bold" font-size="11.5" fill="#111">420</text>
<line x1="601.3" y1="499.4" x2="603" y2="499.4" stroke="#777" stroke-width="0.8"/>
<text x="599.5" y="533.1" text-anchor="end" font-family="'Liberation Serif', 'Times New Roman', serif" font-weight="bold" font-size="11.5" fill="#111">440</text>
<line x1="601.3" y1="529.4" x2="603" y2="529.4" stroke="#777" stroke-width="0.8"/>
<text x="599.5" y="563.1" text-anchor="end" font-family="'Liberation Serif', 'Times New Roman', serif" font-weight="bold" font-size="11.5" fill="#111">460</text>
<line x1="601.3" y1="559.4" x2="603" y2="559.4" stroke="#777" stroke-width="0.8"/>
<line x1="966.4" y1="184.5" x2="966.4" y2="479.2" stroke="#1a1a1a" stroke-width="1.1"/>
<line x1="942" y1="245.5" x2="966.4" y2="245.5" stroke="#1a1a1a" stroke-width="1.2"/>
<text transform="translate(946.7 192) rotate(90)" font-family="'Liberation Serif', 'Times New Roman', serif" font-size="19.5" fill="#222" textLength="46" lengthAdjust="spacingAndGlyphs">DEPTH</text>
<text x="959.4" y="285.7" text-anchor="end" font-family="'Liberation Serif', 'Times New Roman', serif" font-weight="bold" font-size="11.5" fill="#111">220</text>
<line x1="961.2" y1="282" x2="962.9" y2="282" stroke="#777" stroke-width="0.8"/>
<text x="959.4" y="315.8" text-anchor="end" font-family="'Liberation Serif', 'Times New Roman', serif" font-weight="bold" font-size="11.5" fill="#111">240</text>
<line x1="961.2" y1="312.1" x2="962.9" y2="312.1" stroke="#777" stroke-width="0.8"/>
<text x="959.4" y="345.8" text-anchor="end" font-family="'Liberation Serif', 'Times New Roman', serif" font-weight="bold" font-size="11.5" fill="#111">260</text>
<line x1="961.2" y1="342.1" x2="962.9" y2="342.1" stroke="#777" stroke-width="0.8"/>
<text x="959.4" y="375.8" text-anchor="end" font-family="'Liberation Serif', 'Times New Roman', serif" font-weight="bold" font-size="11.5" fill="#111">280</text>
<line x1="961.2" y1="372.1" x2="962.9" y2="372.1" stroke="#777" stroke-width="0.8"/>
<text x="959.4" y="405.9" text-anchor="end" font-family="'Liberation Serif', 'Times New Roman', serif" font-weight="bold" font-size="11.5" fill="#111">300</text>
<line x1="961.2" y1="402.2" x2="962.9" y2="402.2" stroke="#777" stroke-width="0.8"/>
<text x="959.4" y="435.9" text-anchor="end" font-family="'Liberation Serif', 'Times New Roman', serif" font-weight="bold" font-size="11.5" fill="#111">320</text>
<line x1="961.2" y1="432.2" x2="962.9" y2="432.2" stroke="#777" stroke-width="0.8"/>
<text x="959.4" y="466" text-anchor="end" font-family="'Liberation Serif', 'Times New Roman', serif" font-weight="bold" font-size="11.5" fill="#111">340</text>
<line x1="961.2" y1="462.3" x2="962.9" y2="462.3" stroke="#777" stroke-width="0.8"/>
<line x1="1259.6" y1="141.5" x2="1259.6" y2="420.4" stroke="#1a1a1a" stroke-width="1.1"/>
<line x1="1235" y1="202" x2="1259.6" y2="202" stroke="#1a1a1a" stroke-width="1.2"/>
<text transform="translate(1240.7 148) rotate(90)" font-family="'Liberation Serif', 'Times New Roman', serif" font-size="19.5" fill="#222" textLength="47.8" lengthAdjust="spacingAndGlyphs">DEPTH</text>
<text x="1252.5" y="219.3" text-anchor="end" font-family="'Liberation Serif', 'Times New Roman', serif" font-weight="bold" font-size="11.5" fill="#111">180</text>
<line x1="1254.3" y1="215.6" x2="1256" y2="215.6" stroke="#777" stroke-width="0.8"/>
<text x="1252.5" y="249.3" text-anchor="end" font-family="'Liberation Serif', 'Times New Roman', serif" font-weight="bold" font-size="11.5" fill="#111">200</text>
<line x1="1254.3" y1="245.7" x2="1256" y2="245.7" stroke="#777" stroke-width="0.8"/>
<text x="1252.5" y="279.4" text-anchor="end" font-family="'Liberation Serif', 'Times New Roman', serif" font-weight="bold" font-size="11.5" fill="#111">220</text>
<line x1="1254.3" y1="275.7" x2="1256" y2="275.7" stroke="#777" stroke-width="0.8"/>
<text x="1252.5" y="309.4" text-anchor="end" font-family="'Liberation Serif', 'Times New Roman', serif" font-weight="bold" font-size="11.5" fill="#111">240</text>
<line x1="1254.3" y1="305.8" x2="1256" y2="305.8" stroke="#777" stroke-width="0.8"/>
<text x="1252.5" y="339.5" text-anchor="end" font-family="'Liberation Serif', 'Times New Roman', serif" font-weight="bold" font-size="11.5" fill="#111">260</text>
<line x1="1254.3" y1="335.8" x2="1256" y2="335.8" stroke="#777" stroke-width="0.8"/>
<text x="1252.5" y="369.6" text-anchor="end" font-family="'Liberation Serif', 'Times New Roman', serif" font-weight="bold" font-size="11.5" fill="#111">280</text>
<line x1="1254.3" y1="365.9" x2="1256" y2="365.9" stroke="#777" stroke-width="0.8"/>
<text x="1252.5" y="399.6" text-anchor="end" font-family="'Liberation Serif', 'Times New Roman', serif" font-weight="bold" font-size="11.5" fill="#111">300</text>
<line x1="1254.3" y1="395.9" x2="1256" y2="395.9" stroke="#777" stroke-width="0.8"/>
<line x1="1422.9" y1="131.2" x2="1422.9" y2="429.8" stroke="#1a1a1a" stroke-width="1.1"/>
<line x1="1398.4" y1="192.8" x2="1422.9" y2="192.8" stroke="#1a1a1a" stroke-width="1.2"/>
<text transform="translate(1403.5 138.7) rotate(90)" font-family="'Liberation Serif', 'Times New Roman', serif" font-size="19.5" fill="#222" textLength="47.1" lengthAdjust="spacingAndGlyphs">DEPTH</text>
<text x="1415.9" y="211.2" text-anchor="end" font-family="'Liberation Serif', 'Times New Roman', serif" font-weight="bold" font-size="11.5" fill="#111">140</text>
<line x1="1417.7" y1="207.5" x2="1419.4" y2="207.5" stroke="#777" stroke-width="0.8"/>
<text x="1415.9" y="241.1" text-anchor="end" font-family="'Liberation Serif', 'Times New Roman', serif" font-weight="bold" font-size="11.5" fill="#111">160</text>
<line x1="1417.7" y1="237.4" x2="1419.4" y2="237.4" stroke="#777" stroke-width="0.8"/>
<text x="1415.9" y="271.1" text-anchor="end" font-family="'Liberation Serif', 'Times New Roman', serif" font-weight="bold" font-size="11.5" fill="#111">180</text>
<line x1="1417.7" y1="267.4" x2="1419.4" y2="267.4" stroke="#777" stroke-width="0.8"/>
<text x="1415.9" y="301" text-anchor="end" font-family="'Liberation Serif', 'Times New Roman', serif" font-weight="bold" font-size="11.5" fill="#111">200</text>
<line x1="1417.7" y1="297.3" x2="1419.4" y2="297.3" stroke="#777" stroke-width="0.8"/>
<text x="1415.9" y="330.9" text-anchor="end" font-family="'Liberation Serif', 'Times New Roman', serif" font-weight="bold" font-size="11.5" fill="#111">220</text>
<line x1="1417.7" y1="327.2" x2="1419.4" y2="327.2" stroke="#777" stroke-width="0.8"/>
<text x="1415.9" y="360.8" text-anchor="end" font-family="'Liberation Serif', 'Times New Roman', serif" font-weight="bold" font-size="11.5" fill="#111">240</text>
<line x1="1417.7" y1="357.1" x2="1419.4" y2="357.1" stroke="#777" stroke-width="0.8"/>
<text x="1415.9" y="390.8" text-anchor="end" font-family="'Liberation Serif', 'Times New Roman', serif" font-weight="bold" font-size="11.5" fill="#111">260</text>
<line x1="1417.7" y1="387.1" x2="1419.4" y2="387.1" stroke="#777" stroke-width="0.8"/>
<text x="1415.9" y="420.7" text-anchor="end" font-family="'Liberation Serif', 'Times New Roman', serif" font-weight="bold" font-size="11.5" fill="#111">280</text>
<line x1="1417.7" y1="417" x2="1419.4" y2="417" stroke="#777" stroke-width="0.8"/>
<line x1="1580.1" y1="108.2" x2="1580.1" y2="411" stroke="#1a1a1a" stroke-width="1.1"/>
<line x1="1555.2" y1="169.5" x2="1580.1" y2="169.5" stroke="#1a1a1a" stroke-width="1.2"/>
<text transform="translate(1560.5 115.2) rotate(90)" font-family="'Liberation Serif', 'Times New Roman', serif" font-size="19.5" fill="#222" textLength="47.3" lengthAdjust="spacingAndGlyphs">DEPTH</text>
<text x="1573.1" y="198.2" text-anchor="end" font-family="'Liberation Serif', 'Times New Roman', serif" font-weight="bold" font-size="11.5" fill="#111">280</text>
<line x1="1574.9" y1="194.5" x2="1576.6" y2="194.5" stroke="#777" stroke-width="0.8"/>
<text x="1573.1" y="228.2" text-anchor="end" font-family="'Liberation Serif', 'Times New Roman', serif" font-weight="bold" font-size="11.5" fill="#111">300</text>
<line x1="1574.9" y1="224.5" x2="1576.6" y2="224.5" stroke="#777" stroke-width="0.8"/>
<text x="1573.1" y="258.1" text-anchor="end" font-family="'Liberation Serif', 'Times New Roman', serif" font-weight="bold" font-size="11.5" fill="#111">320</text>
<line x1="1574.9" y1="254.4" x2="1576.6" y2="254.4" stroke="#777" stroke-width="0.8"/>
<text x="1573.1" y="288.1" text-anchor="end" font-family="'Liberation Serif', 'Times New Roman', serif" font-weight="bold" font-size="11.5" fill="#111">340</text>
<line x1="1574.9" y1="284.4" x2="1576.6" y2="284.4" stroke="#777" stroke-width="0.8"/>
<text x="1573.1" y="318.1" text-anchor="end" font-family="'Liberation Serif', 'Times New Roman', serif" font-weight="bold" font-size="11.5" fill="#111">360</text>
<line x1="1574.9" y1="314.4" x2="1576.6" y2="314.4" stroke="#777" stroke-width="0.8"/>
<text x="1573.1" y="348.1" text-anchor="end" font-family="'Liberation Serif', 'Times New Roman', serif" font-weight="bold" font-size="11.5" fill="#111">380</text>
<line x1="1574.9" y1="344.4" x2="1576.6" y2="344.4" stroke="#777" stroke-width="0.8"/>
<text x="1573.1" y="378" text-anchor="end" font-family="'Liberation Serif', 'Times New Roman', serif" font-weight="bold" font-size="11.5" fill="#111">400</text>
<line x1="1574.9" y1="374.3" x2="1576.6" y2="374.3" stroke="#777" stroke-width="0.8"/>
<text x="1573.1" y="408" text-anchor="end" font-family="'Liberation Serif', 'Times New Roman', serif" font-weight="bold" font-size="11.5" fill="#111">420</text>
<line x1="1574.9" y1="404.3" x2="1576.6" y2="404.3" stroke="#777" stroke-width="0.8"/>
<line x1="1757.6" y1="78.2" x2="1757.6" y2="332.6" stroke="#1a1a1a" stroke-width="1.1"/>
<line x1="1733.8" y1="138.8" x2="1757.6" y2="138.8" stroke="#1a1a1a" stroke-width="1.2"/>
<text transform="translate(1738 83.3) rotate(90)" font-family="'Liberation Serif', 'Times New Roman', serif" font-size="19.5" fill="#222" textLength="49" lengthAdjust="spacingAndGlyphs">DEPTH</text>
<text x="1751.1" y="158.2" text-anchor="end" font-family="'Liberation Serif', 'Times New Roman', serif" font-weight="bold" font-size="11.5" fill="#111">260</text>
<line x1="1752.9" y1="154.5" x2="1754.6" y2="154.5" stroke="#777" stroke-width="0.8"/>
<text x="1751.1" y="188.2" text-anchor="end" font-family="'Liberation Serif', 'Times New Roman', serif" font-weight="bold" font-size="11.5" fill="#111">280</text>
<line x1="1752.9" y1="184.5" x2="1754.6" y2="184.5" stroke="#777" stroke-width="0.8"/>
<text x="1751.1" y="218.2" text-anchor="end" font-family="'Liberation Serif', 'Times New Roman', serif" font-weight="bold" font-size="11.5" fill="#111">300</text>
<line x1="1752.9" y1="214.5" x2="1754.6" y2="214.5" stroke="#777" stroke-width="0.8"/>
<text x="1751.1" y="248.2" text-anchor="end" font-family="'Liberation Serif', 'Times New Roman', serif" font-weight="bold" font-size="11.5" fill="#111">320</text>
<line x1="1752.9" y1="244.5" x2="1754.6" y2="244.5" stroke="#777" stroke-width="0.8"/>
<text x="1751.1" y="278.2" text-anchor="end" font-family="'Liberation Serif', 'Times New Roman', serif" font-weight="bold" font-size="11.5" fill="#111">340</text>
<line x1="1752.9" y1="274.5" x2="1754.6" y2="274.5" stroke="#777" stroke-width="0.8"/>
<text x="1751.1" y="308.2" text-anchor="end" font-family="'Liberation Serif', 'Times New Roman', serif" font-weight="bold" font-size="11.5" fill="#111">360</text>
<line x1="1752.9" y1="304.5" x2="1754.6" y2="304.5" stroke="#777" stroke-width="0.8"/>
<line x1="1957.5" y1="32.7" x2="1957.5" y2="332.4" stroke="#1a1a1a" stroke-width="1.1"/>
<line x1="1932.8" y1="93.8" x2="1957.5" y2="93.8" stroke="#1a1a1a" stroke-width="1.2"/>
<text transform="translate(1937.7 39.7) rotate(90)" font-family="'Liberation Serif', 'Times New Roman', serif" font-size="19.5" fill="#222" textLength="46.6" lengthAdjust="spacingAndGlyphs">DEPTH</text>
<text x="1950.7" y="122.7" text-anchor="end" font-family="'Liberation Serif', 'Times New Roman', serif" font-weight="bold" font-size="11.5" fill="#111">160</text>
<line x1="1952.5" y1="119" x2="1954.2" y2="119" stroke="#777" stroke-width="0.8"/>
<text x="1950.7" y="152.6" text-anchor="end" font-family="'Liberation Serif', 'Times New Roman', serif" font-weight="bold" font-size="11.5" fill="#111">180</text>
<line x1="1952.5" y1="148.9" x2="1954.2" y2="148.9" stroke="#777" stroke-width="0.8"/>
<text x="1950.7" y="182.6" text-anchor="end" font-family="'Liberation Serif', 'Times New Roman', serif" font-weight="bold" font-size="11.5" fill="#111">200</text>
<line x1="1952.5" y1="178.9" x2="1954.2" y2="178.9" stroke="#777" stroke-width="0.8"/>
<text x="1950.7" y="212.5" text-anchor="end" font-family="'Liberation Serif', 'Times New Roman', serif" font-weight="bold" font-size="11.5" fill="#111">220</text>
<line x1="1952.5" y1="208.8" x2="1954.2" y2="208.8" stroke="#777" stroke-width="0.8"/>
<text x="1950.7" y="242.4" text-anchor="end" font-family="'Liberation Serif', 'Times New Roman', serif" font-weight="bold" font-size="11.5" fill="#111">240</text>
<line x1="1952.5" y1="238.7" x2="1954.2" y2="238.7" stroke="#777" stroke-width="0.8"/>
<text x="1950.7" y="272.3" text-anchor="end" font-family="'Liberation Serif', 'Times New Roman', serif" font-weight="bold" font-size="11.5" fill="#111">260</text>
<line x1="1952.5" y1="268.6" x2="1954.2" y2="268.6" stroke="#777" stroke-width="0.8"/>
<text x="1950.7" y="302.3" text-anchor="end" font-family="'Liberation Serif', 'Times New Roman', serif" font-weight="bold" font-size="11.5" fill="#111">280</text>
<line x1="1952.5" y1="298.6" x2="1954.2" y2="298.6" stroke="#777" stroke-width="0.8"/>
<text x="1950.7" y="332.2" text-anchor="end" font-family="'Liberation Serif', 'Times New Roman', serif" font-weight="bold" font-size="11.5" fill="#111">300</text>
<line x1="1952.5" y1="328.5" x2="1954.2" y2="328.5" stroke="#777" stroke-width="0.8"/>
<text id="t_wD6263" x="162.3" y="310.2" font-family="'Liberation Serif', 'Times New Roman', serif" font-size="39.53" font-weight="normal" fill="#000" textLength="105.7" lengthAdjust="spacing">D6263</text>
<text id="t_wD6622" x="291.5" y="291.7" font-family="'Liberation Serif', 'Times New Roman', serif" font-size="39.49" font-weight="normal" fill="#000" textLength="107" lengthAdjust="spacing">D6622</text>
<text id="t_wDz6509" x="533.2" y="230" font-family="'Liberation Serif', 'Times New Roman', serif" font-size="39.54" font-weight="normal" fill="#000" textLength="121.3" lengthAdjust="spacing">Dz6509</text>
<text id="t_wZ2" x="932.3" y="175.5" font-family="'Liberation Serif', 'Times New Roman', serif" font-size="38.79" font-weight="normal" fill="#000" textLength="43.6" lengthAdjust="spacing">Z2</text>
<text id="t_wZ115" x="1209.7" y="132.8" font-family="'Liberation Serif', 'Times New Roman', serif" font-size="35.39" font-weight="normal" fill="#000" textLength="73.3" lengthAdjust="spacing">Z115</text>
<text id="t_wJ521" x="1375.7" y="122.4" font-family="'Liberation Serif', 'Times New Roman', serif" font-size="33.95" font-weight="normal" fill="#000" textLength="68" lengthAdjust="spacing">J521</text>
<text id="t_wJ674" x="1532" y="99.3" font-family="'Liberation Serif', 'Times New Roman', serif" font-size="34.92" font-weight="normal" fill="#000" textLength="68.9" lengthAdjust="spacing">J674</text>
<text id="t_wJ397" x="1710.4" y="69.1" font-family="'Liberation Serif', 'Times New Roman', serif" font-size="37.71" font-weight="normal" fill="#000" textLength="69" lengthAdjust="spacing">J397</text>
<text id="t_wJ913" x="1910.7" y="24.5" font-family="'Liberation Serif', 'Times New Roman', serif" font-size="33.94" font-weight="normal" fill="#000" textLength="66.6" lengthAdjust="spacing">J913</text>
<line x1="157.25" y1="275.3" x2="157.25" y2="647" stroke="#000" stroke-width="3.3"/>
<line x1="150" y1="276" x2="157" y2="276" stroke="#000" stroke-width="2"/>
<text x="147.5" y="282.8" text-anchor="end" font-family="'Liberation Serif', 'Times New Roman', serif" font-weight="bold" font-size="19" fill="#111">280</text>
<line x1="150" y1="326" x2="157" y2="326" stroke="#000" stroke-width="2"/>
<text x="147.5" y="332.8" text-anchor="end" font-family="'Liberation Serif', 'Times New Roman', serif" font-weight="bold" font-size="19" fill="#111">230</text>
<line x1="150" y1="376" x2="157" y2="376" stroke="#000" stroke-width="2"/>
<text x="147.5" y="382.8" text-anchor="end" font-family="'Liberation Serif', 'Times New Roman', serif" font-weight="bold" font-size="19" fill="#111">180</text>
<line x1="150" y1="426" x2="157" y2="426" stroke="#000" stroke-width="2"/>
<text x="147.5" y="432.8" text-anchor="end" font-family="'Liberation Serif', 'Times New Roman', serif" font-weight="bold" font-size="19" fill="#111">130</text>
<line x1="150" y1="476" x2="157" y2="476" stroke="#000" stroke-width="2"/>
<text x="147.5" y="482.8" text-anchor="end" font-family="'Liberation Serif', 'Times New Roman', serif" font-weight="bold" font-size="19" fill="#111">80</text>
<line x1="150" y1="526" x2="157" y2="526" stroke="#000" stroke-width="2"/>
<text x="147.5" y="532.8" text-anchor="end" font-family="'Liberation Serif', 'Times New Roman', serif" font-weight="bold" font-size="19" fill="#111">30</text>
<line x1="150" y1="576" x2="157" y2="576" stroke="#000" stroke-width="2"/>
<text x="147.5" y="582.8" text-anchor="end" font-family="'Liberation Serif', 'Times New Roman', serif" font-weight="bold" font-size="19" fill="#111">-20</text>
<line x1="150" y1="626" x2="157" y2="626" stroke="#000" stroke-width="2"/>
<text x="147.5" y="632.8" text-anchor="end" font-family="'Liberation Serif', 'Times New Roman', serif" font-weight="bold" font-size="19" fill="#111">-70</text>
<line x1="153.2" y1="286" x2="157" y2="286" stroke="#000" stroke-width="1.6"/>
<line x1="153.2" y1="296" x2="157" y2="296" stroke="#000" stroke-width="1.6"/>
<line x1="153.2" y1="306" x2="157" y2="306" stroke="#000" stroke-width="1.6"/>
<line x1="153.2" y1="316" x2="157" y2="316" stroke="#000" stroke-width="1.6"/>
<line x1="153.2" y1="336" x2="157" y2="336" stroke="#000" stroke-width="1.6"/>
<line x1="153.2" y1="346" x2="157" y2="346" stroke="#000" stroke-width="1.6"/>
<line x1="153.2" y1="356" x2="157" y2="356" stroke="#000" stroke-width="1.6"/>
<line x1="153.2" y1="366" x2="157" y2="366" stroke="#000" stroke-width="1.6"/>
<line x1="153.2" y1="386" x2="157" y2="386" stroke="#000" stroke-width="1.6"/>
<line x1="153.2" y1="396" x2="157" y2="396" stroke="#000" stroke-width="1.6"/>
<line x1="153.2" y1="406" x2="157" y2="406" stroke="#000" stroke-width="1.6"/>
<line x1="153.2" y1="416" x2="157" y2="416" stroke="#000" stroke-width="1.6"/>
<line x1="153.2" y1="436" x2="157" y2="436" stroke="#000" stroke-width="1.6"/>
<line x1="153.2" y1="446" x2="157" y2="446" stroke="#000" stroke-width="1.6"/>
<line x1="153.2" y1="456" x2="157" y2="456" stroke="#000" stroke-width="1.6"/>
<line x1="153.2" y1="466" x2="157" y2="466" stroke="#000" stroke-width="1.6"/>
<line x1="153.2" y1="486" x2="157" y2="486" stroke="#000" stroke-width="1.6"/>
<line x1="153.2" y1="496" x2="157" y2="496" stroke="#000" stroke-width="1.6"/>
<line x1="153.2" y1="506" x2="157" y2="506" stroke="#000" stroke-width="1.6"/>
<line x1="153.2" y1="516" x2="157" y2="516" stroke="#000" stroke-width="1.6"/>
<line x1="153.2" y1="536" x2="157" y2="536" stroke="#000" stroke-width="1.6"/>
<line x1="153.2" y1="546" x2="157" y2="546" stroke="#000" stroke-width="1.6"/>
<line x1="153.2" y1="556" x2="157" y2="556" stroke="#000" stroke-width="1.6"/>
<line x1="153.2" y1="566" x2="157" y2="566" stroke="#000" stroke-width="1.6"/>
<line x1="153.2" y1="586" x2="157" y2="586" stroke="#000" stroke-width="1.6"/>
<line x1="153.2" y1="596" x2="157" y2="596" stroke="#000" stroke-width="1.6"/>
<line x1="153.2" y1="606" x2="157" y2="606" stroke="#000" stroke-width="1.6"/>
<line x1="153.2" y1="616" x2="157" y2="616" stroke="#000" stroke-width="1.6"/>
<line x1="153.2" y1="636" x2="157" y2="636" stroke="#000" stroke-width="1.6"/>
<text id="t_elev" x="81.8" y="257.2" font-family="'Liberation Serif', 'Times New Roman', serif" font-size="17.0" font-weight="bold" fill="#333" textLength="74.8" lengthAdjust="spacing">Elevation</text>
<text id="t_elevm" x="160.6" y="258.6" font-family="'Liberation Serif', 'Times New Roman', serif" font-size="18.0" font-weight="normal" fill="#333">/m</text>
<text id="t_layer" x="174.1" y="362.3" font-family="'Liberation Serif', 'Times New Roman', serif" font-size="16.5" font-weight="bold" fill="#333" textLength="46.5" lengthAdjust="spacing">Layer</text>
<rect x="168" y="387" width="56.5" height="259.6" fill="none" stroke="#444" stroke-width="1"/>
<line x1="168" y1="403.5" x2="224.5" y2="403.5" stroke="#444" stroke-width="1"/>
<line x1="168" y1="458.6" x2="224.5" y2="458.6" stroke="#444" stroke-width="1"/>
<line x1="168" y1="546" x2="224.5" y2="546" stroke="#444" stroke-width="1"/>
<line x1="224.5" y1="387" x2="248.5" y2="387" stroke="#444" stroke-width="1"/>
<text id="t_lay0" x="175.2" y="400.3" font-family="'Liberation Serif', 'Times New Roman', serif" font-size="16.5" font-weight="normal" fill="#333" textLength="39.2" lengthAdjust="spacing">Yan 8</text>
<text id="t_lay1" x="174" y="437.2" font-family="'Liberation Serif', 'Times New Roman', serif" font-size="16.5" font-weight="normal" fill="#333" textLength="40.9" lengthAdjust="spacing">Yan 9</text>
<text id="t_lay2" x="169.1" y="505.1" font-family="'Liberation Serif', 'Times New Roman', serif" font-size="16.5" font-weight="normal" fill="#333" textLength="50.8" lengthAdjust="spacing">Yan 10</text>
<text id="t_lay3" x="168.2" y="599.7" font-family="'Liberation Serif', 'Times New Roman', serif" font-size="16.5" font-weight="normal" fill="#333" textLength="52.7" lengthAdjust="spacing">Fuxian</text>
<line x1="157" y1="686" x2="157" y2="667" stroke="#F03030" stroke-width="2.2"/>
<path d="M157 647L166.2 669L147.8 669Z" fill="#F03030"/>
<line x1="175" y1="694.7" x2="249.6" y2="651.9" stroke="#F03030" stroke-width="2.2"/>
<path d="M267 642L252.5 661L243.3 644.9Z" fill="#F03030"/>
<line x1="366.5" y1="572" x2="365.5" y2="529.3" stroke="#F03030" stroke-width="2.2"/>
<path d="M365 509.3L374.8 531.1L356.3 531.5Z" fill="#F03030"/>
<line x1="708.5" y1="548.3" x2="798.3" y2="513.5" stroke="#F03030" stroke-width="2.2"/>
<path d="M817 506.3L799.8 522.9L793.1 505.6Z" fill="#F03030"/>
<line x1="977" y1="427.3" x2="976" y2="392.5" stroke="#F03030" stroke-width="2.2"/>
<path d="M975.5 372.5L985.3 394.2L966.9 394.7Z" fill="#F03030"/>
<line x1="1171" y1="425.6" x2="1262.7" y2="389.9" stroke="#F03030" stroke-width="2.2"/>
<path d="M1281.3 382.7L1264.1 399.3L1257.4 382.1Z" fill="#F03030"/>
<line x1="1355.5" y1="351.2" x2="1422.8" y2="290" stroke="#F03030" stroke-width="2.2"/>
<path d="M1437.6 276.5L1427.6 298.1L1415.1 284.5Z" fill="#F03030"/>
<line x1="1431" y1="502.5" x2="1478.3" y2="483.7" stroke="#F03030" stroke-width="2.2"/>
<path d="M1495 477L1479.6 492.3L1473.3 476.5Z" fill="#F03030"/>
<path d="M671.7 272.2L443.5 466.5" fill="none" stroke="#222" stroke-width="2"/>
<path d="M447.4 452.7L442.6 467.5L458.4 465.1" fill="none" stroke="#333" stroke-width="4" stroke-linejoin="miter"/>
<path d="M774.3 270.7L983 339.6" fill="none" stroke="#222" stroke-width="2"/>
<path d="M973.8 327.5L984.3 340.3L969.2 344.5" fill="none" stroke="#333" stroke-width="4" stroke-linejoin="miter"/>
<path d="M1060.8 121.3L1185 355.5" fill="none" stroke="#222" stroke-width="2"/>
<path d="M1186.3 342.2L1185.5 356.5L1171 348.5" fill="none" stroke="#333" stroke-width="4" stroke-linejoin="miter"/>
<path d="M1198.2 481.3L1155.5 422" fill="none" stroke="#222" stroke-width="2"/>
<path d="M1155.8 437.3L1154.6 421L1171 428" fill="none" stroke="#333" stroke-width="4" stroke-linejoin="miter"/>
<path d="M923.1 559.9L893.8 485" fill="none" stroke="#222" stroke-width="2"/>
<path d="M889.8 500.2L893.3 483.8L906.2 494.3" fill="none" stroke="#333" stroke-width="4" stroke-linejoin="miter"/>
<ellipse cx="720.7" cy="249.6" rx="76.7" ry="27.9" fill="#fff" stroke="#222" stroke-width="2"/>
<text id="t_yan10oil" x="683" y="244.3" font-family="'Liberation Serif', 'Times New Roman', serif" font-size="18.0" font-weight="bold" fill="#333" textLength="89.3" lengthAdjust="spacing">Yan 10 oil</text>
<text id="t_ellres" x="681.5" y="266.2" font-family="'Liberation Serif', 'Times New Roman', serif" font-size="18.0" font-weight="bold" fill="#333" textLength="86" lengthAdjust="spacing">reservoir</text>
<text id="t_yan10a" x="843.1" y="90.6" font-family="'Liberation Serif', 'Times New Roman', serif" font-size="26.0" font-weight="normal" fill="#2E3192" textLength="79" lengthAdjust="spacing">Yan 10</text>
<text id="t_sup2" x="923.9" y="76.8" font-family="'Liberation Serif', 'Times New Roman', serif" font-size="12.0" font-weight="normal" fill="#2E3192">2</text>
<text id="t_period1" x="932.5" y="90.6" font-family="'Liberation Serif', 'Times New Roman', serif" font-size="26.0" font-weight="normal" fill="#2E3192" textLength="288.9" lengthAdjust="spacing">period channel boundary</text>
<text id="t_meng1" x="842" y="120.3" font-family="'Liberation Serif', 'Times New Roman', serif" font-size="26.0" font-weight="normal" fill="#2E3192" textLength="341.8" lengthAdjust="spacing">of Meng-Shaan paleochannel</text>
<text id="t_fux1" x="997.7" y="497.7" font-family="'Liberation Serif', 'Times New Roman', serif" font-size="26.0" font-weight="normal" fill="#2E3192" textLength="379.3" lengthAdjust="spacing">Fuxian period channel boundary</text>
<text id="t_meng2" x="997.7" y="526.3" font-family="'Liberation Serif', 'Times New Roman', serif" font-size="26.0" font-weight="normal" fill="#2E3192" textLength="342.7" lengthAdjust="spacing">of Meng-Shaan paleochannel</text>
<text id="t_unconf" x="809.4" y="577.9" font-family="'Liberation Serif', 'Times New Roman', serif" font-size="27.0" font-weight="bold" fill="#333" textLength="285.4" lengthAdjust="spacing">Unconformity surfaces</text>
<ellipse cx="86" cy="700.7" rx="85.3" ry="26.5" fill="#666666" stroke="#333" stroke-width="1.5"/>
<text id="t_oilsrc" x="62.1" y="705.8" font-family="'Liberation Serif', 'Times New Roman', serif" font-size="20.0" font-weight="bold" fill="#333" textLength="93.8" lengthAdjust="spacing">Oil source</text>
<text id="t_NE" x="196.5" y="66.9" font-family="'Liberation Serif', 'Times New Roman', serif" font-size="33.93" font-weight="normal" fill="#000" textLength="46.9" lengthAdjust="spacing">NE</text>
<path d="M172 74.5H255V69.6L282 81.6L255 93V88.5H172Z" fill="#fff" stroke="#c8c8c8" stroke-width="1.2"/>
<text id="t_sc0" x="586.1" y="65.6" font-family="'Liberation Serif', 'Times New Roman', serif" font-size="36.27" font-weight="normal" fill="#000">0</text>
<text id="t_sc1" x="629.8" y="65.6" font-family="'Liberation Serif', 'Times New Roman', serif" font-size="36.27" font-weight="normal" fill="#000">1</text>
<text id="t_sc2" x="674.7" y="65.6" font-family="'Liberation Serif', 'Times New Roman', serif" font-size="36.27" font-weight="normal" fill="#000">2</text>
<text id="t_sc3" x="719.1" y="65.6" font-family="'Liberation Serif', 'Times New Roman', serif" font-size="36.27" font-weight="normal" fill="#000">3</text>
<text id="t_sc4" x="743.3" y="65.6" font-family="'Liberation Serif', 'Times New Roman', serif" font-size="35.0" font-weight="normal" fill="#000" textLength="44.1" lengthAdjust="spacing">km</text>
<rect x="595" y="82.2" width="133.5" height="6" fill="#fff" stroke="#000" stroke-width="2"/>
<rect x="638" y="82.2" width="46" height="6" fill="#000"/>
<line x1="595" y1="76" x2="595" y2="89" stroke="#000" stroke-width="2"/>
<line x1="638" y1="76" x2="638" y2="89" stroke="#000" stroke-width="2"/>
<line x1="684" y1="76" x2="684" y2="89" stroke="#000" stroke-width="2"/>
<line x1="728.5" y1="76" x2="728.5" y2="89" stroke="#000" stroke-width="2"/>
<line x1="224.5" y1="683" x2="1982.8" y2="683" stroke="#333" stroke-width="1.8"/>
<line x1="224.5" y1="674" x2="224.5" y2="688" stroke="#333" stroke-width="1.6"/>
<line x1="572.7" y1="674" x2="572.7" y2="688" stroke="#333" stroke-width="1.6"/>
<line x1="837" y1="674" x2="837" y2="688" stroke="#333" stroke-width="1.6"/>
<line x1="1277.5" y1="674" x2="1277.5" y2="688" stroke="#333" stroke-width="1.6"/>
<line x1="1979" y1="672" x2="1979" y2="684" stroke="#333" stroke-width="1.6"/>
<rect x="311.6" y="658.8" width="174.4" height="44.5" fill="#fff" stroke="#333" stroke-width="2"/>
<rect x="619.7" y="658.8" width="160.3" height="44.5" fill="#fff" stroke="#333" stroke-width="2"/>
<rect x="977" y="658.8" width="161" height="44.5" fill="#fff" stroke="#333" stroke-width="2"/>
<rect x="1467" y="658.8" width="160.7" height="44.5" fill="#fff" stroke="#333" stroke-width="2"/>
<text id="t_bx0" x="313.1" y="677.9" font-family="'Liberation Serif', 'Times New Roman', serif" font-size="20.0" font-weight="normal" fill="#333" textLength="168" lengthAdjust="spacing">Inter-river residual</text>
<text id="t_bx1" x="333.4" y="699.3" font-family="'Liberation Serif', 'Times New Roman', serif" font-size="20.0" font-weight="normal" fill="#333" textLength="103" lengthAdjust="spacing">paleo-beam</text>
<text id="t_bx2" x="620.1" y="676.5" font-family="'Liberation Serif', 'Times New Roman', serif" font-size="20.0" font-weight="normal" fill="#333" textLength="157.8" lengthAdjust="spacing">Secondary branch</text>
<text id="t_bx3" x="640.7" y="698.7" font-family="'Liberation Serif', 'Times New Roman', serif" font-size="20.0" font-weight="normal" fill="#333" textLength="116.9" lengthAdjust="spacing">paleochannel</text>
<text id="t_bx4" x="1015.3" y="677.4" font-family="'Liberation Serif', 'Times New Roman', serif" font-size="20.0" font-weight="normal" fill="#333" textLength="69.7" lengthAdjust="spacing">Erosion</text>
<text id="t_bx5" x="1008.2" y="699" font-family="'Liberation Serif', 'Times New Roman', serif" font-size="20.0" font-weight="normal" fill="#333" textLength="94.9" lengthAdjust="spacing">paleoslope</text>
<text id="t_bx6" x="1501.5" y="676.8" font-family="'Liberation Serif', 'Times New Roman', serif" font-size="20.0" font-weight="normal" fill="#333" textLength="85.8" lengthAdjust="spacing">Residual</text>
<text id="t_bx7" x="1502.2" y="699" font-family="'Liberation Serif', 'Times New Roman', serif" font-size="20.0" font-weight="normal" fill="#333" textLength="85" lengthAdjust="spacing">paleo-hill</text>
<text id="t_paleo" x="1735" y="671.9" font-family="'Liberation Serif', 'Times New Roman', serif" font-size="26.5" font-weight="bold" fill="#333" textLength="279.7" lengthAdjust="spacing">Paleogeomorphic unit</text>
<rect x="1413.3" y="461" width="105.4" height="55" fill="#fff" stroke="#222" stroke-width="2"/>
<rect x="1536.6" y="461" width="105.4" height="55" fill="#FF0000" stroke="#222" stroke-width="2"/>
<rect x="1658.6" y="461" width="105.4" height="55" fill="#00CCFF" stroke="#222" stroke-width="2"/>
<rect x="1782" y="461" width="105.4" height="55" fill="#99FF99" stroke="#222" stroke-width="2"/>
<line x1="1431" y1="502.5" x2="1478.3" y2="483.7" stroke="#F03030" stroke-width="2.2"/>
<path d="M1495 477L1479.6 492.3L1473.3 476.5Z" fill="#F03030"/>
<text id="t_lg0" x="1405.5" y="539.9" font-family="'Liberation Serif', 'Times New Roman', serif" font-size="25.5" font-weight="normal" fill="#333" textLength="118.2" lengthAdjust="spacing">Migration</text>
<text id="t_lg1" x="1419.7" y="568.8" font-family="'Liberation Serif', 'Times New Roman', serif" font-size="25.5" font-weight="normal" fill="#333" textLength="97.6" lengthAdjust="spacing">pathway</text>
<text id="t_lg2" x="1567" y="545.8" font-family="'Liberation Serif', 'Times New Roman', serif" font-size="25.5" font-weight="normal" fill="#333" textLength="37.9" lengthAdjust="spacing">Oil</text>
<text id="t_lg3" x="1536.7" y="568.1" font-family="'Liberation Serif', 'Times New Roman', serif" font-size="25.5" font-weight="normal" fill="#333" textLength="105.4" lengthAdjust="spacing">reservoir</text>
<text id="t_lg4" x="1652" y="541.4" font-family="'Liberation Serif', 'Times New Roman', serif" font-size="25.5" font-weight="normal" fill="#333" textLength="121.3" lengthAdjust="spacing">Sandstone</text>
<text id="t_lg5" x="1673.2" y="570.6" font-family="'Liberation Serif', 'Times New Roman', serif" font-size="25.5" font-weight="normal" fill="#333" textLength="75.8" lengthAdjust="spacing">bodies</text>
<text id="t_lg6" x="1778" y="541.4" font-family="'Liberation Serif', 'Times New Roman', serif" font-size="25.5" font-weight="normal" fill="#333" textLength="150.5" lengthAdjust="spacing">Fine-grained</text>
<text id="t_lg7" x="1784.5" y="570.6" font-family="'Liberation Serif', 'Times New Roman', serif" font-size="25.5" font-weight="normal" fill="#333" textLength="117.9" lengthAdjust="spacing">sediments</text>
</svg></body></html>
